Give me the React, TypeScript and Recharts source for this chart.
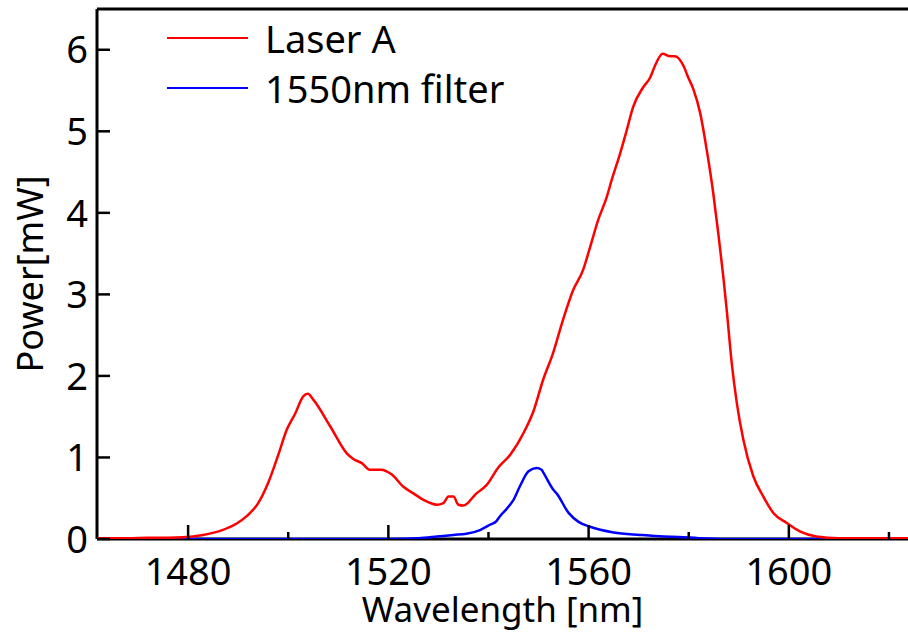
import { LineChart, Line, XAxis, YAxis, ReferenceLine } from "recharts";

// Laser A spectrum
const laserWavelength = [
  1461.8, 1468, 1472, 1476, 1479, 1483, 1486.4, 1489.7, 1491.7, 1494, 1496, 1498, 1499.7,
  1501.4, 1503, 1503.9, 1505, 1508.4, 1511.7, 1513, 1514.7, 1516.3, 1518.5, 1520.7, 1523,
  1525, 1527, 1529.7, 1531, 1532, 1533, 1534, 1535, 1537.6, 1539.6, 1542, 1544.3, 1547,
  1549, 1550.9, 1552.9, 1554.9, 1556.9, 1558.9, 1560.3, 1561.9, 1563.6, 1564.6, 1566.3,
  1567.6, 1568.9, 1570.9, 1572.3, 1573.3, 1574.8, 1576.3, 1577.2, 1578.9, 1579.9, 1580.9,
  1582.3, 1583.6, 1584.9, 1585.9, 1586.9, 1587.6, 1588.6, 1589.6, 1590.9, 1592.9, 1594.9,
  1596.9, 1599.5, 1602.3, 1605.5, 1610, 1616, 1623.8,
];
const laserPower = [
  0.01, 0.01, 0.015, 0.015, 0.02, 0.05, 0.1, 0.19, 0.28, 0.44, 0.69, 1.03, 1.34,
  1.54, 1.75, 1.78, 1.71, 1.38, 1.05, 0.98, 0.93, 0.85, 0.85, 0.79, 0.64,
  0.56, 0.48, 0.42, 0.44, 0.52, 0.52, 0.42, 0.41, 0.56, 0.66, 0.88, 1.03, 1.3,
  1.57, 1.95, 2.28, 2.69, 3.05, 3.3, 3.58, 3.91, 4.19, 4.4, 4.73,
  5.01, 5.3, 5.54, 5.66, 5.81, 5.95, 5.92, 5.92, 5.81, 5.66, 5.52,
  5.22, 4.77, 4.24, 3.75, 3.22, 2.8, 2.15, 1.67, 1.22, 0.77, 0.52,
  0.32, 0.2, 0.09, 0.03, 0.01, 0.01, 0.01,
];

// 1550nm filter spectrum
const filterWavelength = [
  1461.8, 1520, 1526, 1529.7, 1533, 1535.6, 1538.3, 1540.3, 1541.6, 1542.3, 1543.5, 1544.3,
  1545, 1546.3, 1548, 1549.6, 1550.6, 1551, 1553, 1553.6, 1556, 1558, 1560.3, 1565,
  1570.3, 1575, 1578, 1582, 1588, 1623.8,
];
const filterPower = [
  0, 0, 0.01, 0.03, 0.05, 0.065, 0.11, 0.175, 0.22, 0.28, 0.36, 0.42,
  0.48, 0.65, 0.83, 0.87, 0.85, 0.81, 0.6, 0.56, 0.32, 0.21, 0.15, 0.08,
  0.05, 0.03, 0.025, 0.01, 0, 0,
];

const majorTicks = [1480, 1520, 1560, 1600];
const minorTicks = [1500, 1540, 1580, 1620];
const powerTicks = [0, 1, 2, 3, 4, 5, 6];

const series = [
  {
    name: "Laser A",
    color: "#ff0000",
    data: laserWavelength.map((w, i) => ({ wavelength: w, power: laserPower[i] })),
  },
  {
    name: "1550nm filter",
    color: "#0000ff",
    data: filterWavelength.map((w, i) => ({ wavelength: w, power: filterPower[i] })),
  },
];

const FONT = "'Noto Sans', sans-serif";

function WaveTick(props: any) {
  const { x, y, payload } = props;
  const major = majorTicks.includes(payload.value);
  return (
    <g>
      <line x1={x} x2={x} y1={y} y2={y - (major ? 14 : 7)} stroke="#000" strokeWidth={2.5} />
      {major && (
        <text x={x} y={y + 46} textAnchor="middle" fontSize={38} fontFamily={FONT} fill="#000">
          {payload.value}
        </text>
      )}
    </g>
  );
}

function PowerTick(props: any) {
  const { x, y, payload } = props;
  return (
    <g>
      <line x1={x} x2={x + 13} y1={y} y2={y} stroke="#000" strokeWidth={2.5} />
      <text x={x - 9} y={y} dy="0.36em" textAnchor="end" fontSize={38} fontFamily={FONT} fill="#000">
        {payload.value}
      </text>
    </g>
  );
}

// legend drawn over the plot, top-left
function LegendBox() {
  return (
    <div style={{ position: "absolute", left: 167, top: 13, display: "flex", flexDirection: "column" }}>
      {series.map((s) => (
        <div key={s.name} style={{ display: "flex", alignItems: "center", height: 50 }}>
          <svg width={81} height={4}>
            <line x1={0} x2={81} y1={2} y2={2} stroke={s.color} strokeWidth={2} />
          </svg>
          <span style={{ marginLeft: 17, fontSize: 38, lineHeight: "50px", color: "#000", fontFamily: FONT }}>
            {s.name}
          </span>
        </div>
      ))}
    </div>
  );
}

export default function App() {
  return (
    <div style={{ position: "absolute", left: 0, top: 0, width: 908, height: 633, background: "#fff" }}>
      <LineChart width={908} height={633} margin={{ top: 9, right: 0, bottom: 0, left: 0 }}>
        <XAxis
          type="number"
          dataKey="wavelength"
          domain={[1461.8, 1623.8]}
          allowDataOverflow
          ticks={[...majorTicks, ...minorTicks].sort((a, b) => a - b)}
          interval={0}
          height={94}
          tickSize={0}
          tickMargin={0}
          tickLine={false}
          tick={<WaveTick />}
          axisLine={{ stroke: "#000", strokeWidth: 3 }}
          label={({ viewBox }: any) => (
            <text
              x={viewBox.x + viewBox.width / 2}
              y={viewBox.y + 83}
              textAnchor="middle"
              fontSize={35}
              fontFamily={FONT}
              fill="#000"
            >
              Wavelength [nm]
            </text>
          )}
        />
        <YAxis
          type="number"
          dataKey="power"
          domain={[0, 6.5]}
          allowDataOverflow
          ticks={powerTicks}
          interval={0}
          width={97}
          tickSize={0}
          tickMargin={0}
          tickLine={false}
          tick={<PowerTick />}
          axisLine={{ stroke: "#000", strokeWidth: 3 }}
          label={({ viewBox }: any) => {
            const cx = 43;
            const cy = viewBox.y + viewBox.height / 2;
            return (
              <text
                x={cx}
                y={cy}
                transform={`rotate(-90, ${cx}, ${cy})`}
                textAnchor="middle"
                fontSize={36}
                fontFamily={FONT}
                fill="#000"
              >
                Power[mW]
              </text>
            );
          }}
        />
        <ReferenceLine y={6.5} stroke="#000" strokeWidth={3} />
        {[...series].reverse().map((s) => (
          <Line
            key={s.name}
            data={s.data}
            dataKey="power"
            name={s.name}
            type="monotone"
            stroke={s.color}
            strokeWidth={2.5}
            dot={false}
            isAnimationActive={false}
            zIndex={800}
          />
        ))}
      </LineChart>
      <LegendBox />
    </div>
  );
}
